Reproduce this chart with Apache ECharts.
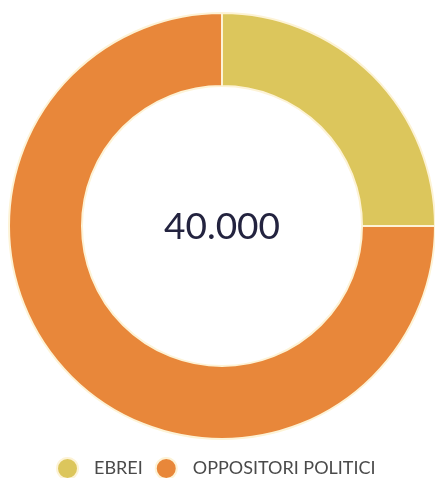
<!DOCTYPE html>
<html>
<head>
<meta charset="utf-8">
<script src="https://cdn.jsdelivr.net/npm/echarts@6/dist/echarts.min.js"></script>
<style>html,body{margin:0;padding:0;background:#fff;}#c{width:435px;height:478px;}</style>
</head>
<body>
<div id="c"></div>
<script>
const categories = ['EBREI', 'OPPOSITORI POLITICI'];
const values = [10000, 30000];
const colors = ['#dcc65c', '#e8873a'];

const total = values.reduce((a, b) => a + b, 0);
const totalLabel = total.toLocaleString('de-DE');

const chart = echarts.init(document.getElementById('c'), null, {renderer: 'canvas'});
chart.setOption({
  animation: false,
  backgroundColor: '#ffffff',
  color: colors,
  title: {
    text: totalLabel,
    left: 222,
    top: 227,
    padding: 0,
    textAlign: 'center',
    textVerticalAlign: 'middle',
    textStyle: {fontFamily: 'Lato', fontSize: 37, fontWeight: 'normal', color: '#23233f'}
  },
  legend: {
    data: categories,
    left: 56,
    top: 457,
    padding: 0,
    icon: 'circle',
    itemWidth: 21,
    itemHeight: 21,
    itemGap: 12,
    textStyle: {fontFamily: 'Lato', fontSize: 18, color: '#4a4a4a', padding: [0, 0, 0, 11]}
  },
  series: [{
    type: 'pie',
    center: [222, 226],
    radius: [140, 213],
    startAngle: 90,
    clockwise: true,
    label: {show: false},
    labelLine: {show: false},
    itemStyle: {borderColor: '#fdf3d6', borderWidth: 2},
    emphasis: {disabled: true},
    data: categories.map((n, i) => ({name: n, value: values[i]}))
  }]
});
</script>
</body>
</html>
